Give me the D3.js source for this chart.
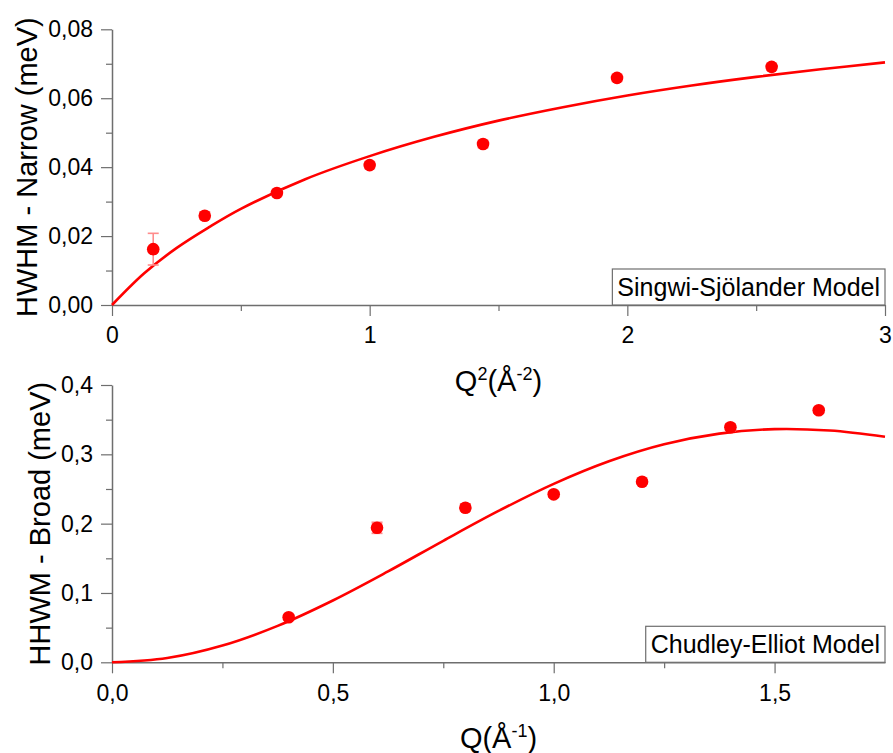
<!DOCTYPE html>
<html>
<head>
<meta charset="utf-8">
<script src="https://cdn.jsdelivr.net/npm/d3@7"></script>
<style>
  body { margin: 0; background: #fff; }
  svg { display: block; font-family: Arial, "Liberation Sans", sans-serif; }
</style>
</head>
<body>
<div id="chart"></div>
<script>
// --- data ---
const qValues = [0.4, 0.6, 0.8, 1.0, 1.2, 1.4, 1.6];
const q2Values = qValues.map(q => q * q);

// top panel: HWHM narrow vs Q^2
const narrowHwhm = [0.0162, 0.0259, 0.0325, 0.0406, 0.0467, 0.0659, 0.0691];
const narrowErr  = [0.0046, 0.0010, 0.0008, 0.0010, 0.0010, 0.0010, 0.0010];
const narrowFitX = [0, 0.125, 0.25, 0.375, 0.5, 0.75, 1.0, 1.25, 1.5, 1.75, 2.0, 2.25, 2.5, 2.75, 3.0];
const narrowFitY = [0, 0.0092, 0.0165, 0.0225, 0.0279, 0.0365, 0.0432, 0.0488, 0.0535, 0.0574, 0.0608, 0.0637, 0.0662, 0.0684, 0.0704];

// bottom panel: HHWM broad vs Q
const broadHwhm = [0.0649, 0.194, 0.223, 0.2423, 0.2605, 0.339, 0.3635];
const broadErr  = [0.004, 0.008, 0.005, 0.004, 0.003, 0.005, 0.004];
const broadFitX = [0, 0.125, 0.25, 0.375, 0.5, 0.625, 0.75, 0.875, 1.0, 1.125, 1.25, 1.375, 1.5, 1.625, 1.75];
const broadFitY = [0, 0.0062, 0.0242, 0.0526, 0.0892, 0.1311, 0.1753, 0.2183, 0.2574, 0.2900, 0.3145, 0.3299, 0.3364, 0.3343, 0.3254];

// ticks
const topXTicks = [0, 1, 2, 3];
const topYTicks = [0, 0.02, 0.04, 0.06, 0.08];
const botXTicks = [0, 0.5, 1.0, 1.5];
const botYTicks = [0, 0.1, 0.2, 0.3, 0.4];

const W = 893, H = 753;
const axisColor = "#6e6e6e";
const red = "#ff0000";

const locale = d3.formatLocale({ decimal: ",", thousands: ".", grouping: [3], currency: ["", ""] });

const svg = d3.select("#chart").append("svg")
    .attr("width", W)
    .attr("height", H);
svg.append("rect").attr("width", W).attr("height", H).attr("fill", "#fff");

function minorTicks(major) {
    const out = [];
    for (let i = 0; i < major.length - 1; i++) out.push((major[i] + major[i + 1]) / 2);
    return out;
}

function drawPanel(cfg) {
    const x = d3.scaleLinear().domain(cfg.xDomain).range([cfg.left, cfg.right]);
    const y = d3.scaleLinear().domain(cfg.yDomain).range([cfg.bottom, cfg.top]);
    const g = svg.append("g");

    // minor ticks
    g.append("g")
        .attr("transform", `translate(0,${cfg.bottom})`)
        .call(d3.axisBottom(x).tickValues(minorTicks(cfg.xTicks)).tickSize(6).tickFormat(""))
        .call(a => a.select(".domain").remove())
        .call(a => a.selectAll("line").attr("stroke", axisColor).attr("stroke-width", 1.2));
    g.append("g")
        .attr("transform", `translate(${cfg.left},0)`)
        .call(d3.axisLeft(y).tickValues(minorTicks(cfg.yTicks)).tickSize(6).tickFormat(""))
        .call(a => a.select(".domain").remove())
        .call(a => a.selectAll("line").attr("stroke", axisColor).attr("stroke-width", 1.2));

    // major axes
    const xAxis = g.append("g")
        .attr("transform", `translate(0,${cfg.bottom})`)
        .call(d3.axisBottom(x).tickValues(cfg.xTicks).tickSize(11).tickSizeOuter(0).tickPadding(11)
            .tickFormat(locale.format(cfg.xFmt)));
    const yAxis = g.append("g")
        .attr("transform", `translate(${cfg.left},0)`)
        .call(d3.axisLeft(y).tickValues(cfg.yTicks).tickSize(11).tickSizeOuter(0).tickPadding(8)
            .tickFormat(locale.format(cfg.yFmt)));
    [xAxis, yAxis].forEach(a => {
        a.select(".domain").attr("stroke", axisColor).attr("stroke-width", 1.5);
        a.selectAll(".tick line").attr("stroke", axisColor).attr("stroke-width", 1.2);
        a.selectAll(".tick text").attr("fill", "#000").style("font-size", "23px");
    });

    // fit curve
    const fit = cfg.fitX.map((v, i) => [v, cfg.fitY[i]]);
    g.append("path")
        .datum(fit)
        .attr("fill", "none")
        .attr("stroke", red)
        .attr("stroke-width", 2.6)
        .attr("d", d3.line().x(d => x(d[0])).y(d => y(d[1])).curve(d3.curveCatmullRom));

    // error bars
    const pts = cfg.px.map((v, i) => ({ x: v, y: cfg.py[i], e: cfg.pe[i] }));
    const eb = g.append("g").attr("stroke", "#ff8c8c").attr("stroke-width", 1.6);
    eb.selectAll("line.v").data(pts).join("line")
        .attr("x1", d => x(d.x)).attr("x2", d => x(d.x))
        .attr("y1", d => y(d.y - d.e)).attr("y2", d => y(d.y + d.e));
    eb.selectAll("line.t").data(pts).join("line")
        .attr("x1", d => x(d.x) - 5.5).attr("x2", d => x(d.x) + 5.5)
        .attr("y1", d => y(d.y + d.e)).attr("y2", d => y(d.y + d.e));
    eb.selectAll("line.b").data(pts).join("line")
        .attr("x1", d => x(d.x) - 5.5).attr("x2", d => x(d.x) + 5.5)
        .attr("y1", d => y(d.y - d.e)).attr("y2", d => y(d.y - d.e));

    // markers
    g.append("g").attr("fill", red)
        .selectAll("circle").data(pts).join("circle")
        .attr("cx", d => x(d.x)).attr("cy", d => y(d.y)).attr("r", 6.3);

    // y title
    g.append("text")
        .attr("transform", `translate(${cfg.yTitleX},${(cfg.top + cfg.bottom) / 2}) rotate(-90)`)
        .attr("text-anchor", "middle")
        .style("font-size", "29px")
        .text(cfg.yTitle);

    // x title with superscripts
    const xt = g.append("text")
        .attr("x", (cfg.left + cfg.right) / 2)
        .attr("y", cfg.xTitleY)
        .attr("text-anchor", "middle")
        .style("font-size", "29px");
    cfg.xTitle.forEach(part => {
        const t = xt.append("tspan").text(part.t);
        if (part.sup) t.attr("dy", -11).style("font-size", "18px");
        if (part.down) t.attr("dy", 11);
    });

    // legend box
    const lg = g.append("g");
    const lt = lg.append("text")
        .style("font-size", "25px")
        .attr("x", 0).attr("y", 0)
        .text(cfg.legend);
    const bb = lt.node().getBBox();
    const boxW = bb.width + 10, boxH = 36;
    const bx = cfg.right - boxW, by = cfg.bottom - boxH;
    lt.attr("x", bx + 5).attr("y", by + 27);
    lg.insert("rect", "text")
        .attr("x", bx).attr("y", by).attr("width", boxW).attr("height", boxH)
        .attr("fill", "#fff").attr("stroke", "#6e6e6e").attr("stroke-width", 1.2);
}

drawPanel({
    left: 112, right: 885, top: 29.3, bottom: 305,
    xDomain: [0, 3], yDomain: [0, 0.08],
    xTicks: topXTicks, yTicks: topYTicks, xFmt: ".0f", yFmt: ".2f",
    fitX: narrowFitX, fitY: narrowFitY,
    px: q2Values, py: narrowHwhm, pe: narrowErr,
    yTitle: "HWHM - Narrow (meV)", yTitleX: 37,
    xTitle: [{ t: "Q" }, { t: "2", sup: true }, { t: "(Å", down: true }, { t: "-2", sup: true }, { t: ")", down: true }],
    xTitleY: 391,
    legend: "Singwi-Sjölander Model"
});

drawPanel({
    left: 112, right: 885, top: 385, bottom: 662.3,
    xDomain: [0, 1.75], yDomain: [0, 0.4],
    xTicks: botXTicks, yTicks: botYTicks, xFmt: ".1f", yFmt: ".1f",
    fitX: broadFitX, fitY: broadFitY,
    px: qValues, py: broadHwhm, pe: broadErr,
    yTitle: "HHWM - Broad (meV)", yTitleX: 50,
    xTitle: [{ t: "Q(Å" }, { t: "-1", sup: true }, { t: ")", down: true }],
    xTitleY: 748,
    legend: "Chudley-Elliot Model"
});
</script>
</body>
</html>
